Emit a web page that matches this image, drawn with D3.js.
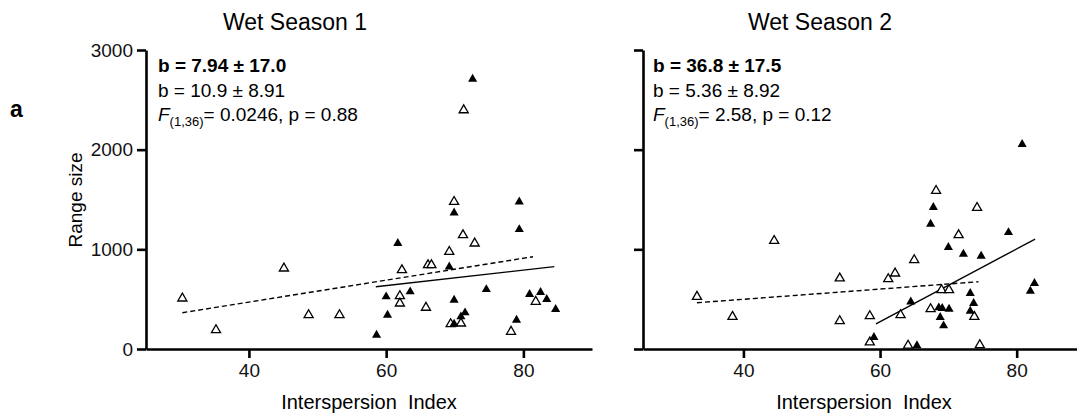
<!DOCTYPE html>
<html>
<head>
<meta charset="utf-8">
<script src="https://cdn.jsdelivr.net/npm/d3@7"></script>
<style>
  body { margin: 0; background: #fff; }
  svg { font-family: "Liberation Sans", Arial, sans-serif; }
</style>
</head>
<body>
<svg id="chart" width="1077" height="416"></svg>
<script>
// values
const titles = ['Wet Season 1', 'Wet Season 2'];
const yTicks = [0, 1000, 2000, 3000];
const xTicks = [40, 60, 80];

const ws1FilledX = [61.7, 60.0, 60.2, 58.6, 63.5, 72.6, 69.9, 79.4, 79.4, 69.2, 74.6, 69.9, 71.5, 70.9, 69.9, 79.0, 80.9, 82.5, 83.4, 84.7];
const ws1FilledY = [1060, 525, 341, 140, 575, 2708, 1367, 1477, 1200, 825, 598, 491, 364, 324, 251, 291, 549, 569, 499, 398];
const ws1OpenX = [30.3, 35.2, 45.1, 48.7, 53.2, 62.3, 62.0, 62.0, 65.8, 66.1, 66.6, 71.3, 69.9, 71.2, 72.9, 69.2, 70.9, 69.4, 78.2, 81.8];
const ws1OpenY = [508, 190, 809, 341, 341, 792, 532, 458, 415, 842, 842, 2397, 1477, 1143, 1060, 976, 257, 251, 174, 475];

const ws2FilledX = [80.8, 67.8, 67.4, 78.8, 70.0, 72.2, 74.8, 82.6, 82.0, 73.2, 64.5, 73.7, 68.6, 69.1, 70.1, 73.2, 68.8, 69.3, 59.1, 65.4];
const ws2FilledY = [2053, 1421, 1254, 1170, 1020, 953, 933, 659, 582, 559, 474, 458, 414, 408, 401, 381, 318, 234, 117, 35];
const ws2OpenX = [68.2, 74.2, 44.5, 71.5, 65.0, 54.1, 62.2, 61.2, 33.2, 69.0, 70.1, 67.4, 38.4, 54.1, 58.5, 63.0, 73.8, 58.5, 64.1, 74.6];
const ws2OpenY = [1588, 1417, 1086, 1143, 893, 709, 759, 702, 525, 592, 592, 401, 324, 281, 331, 341, 324, 67, 35, 40];

// regression line end points
const ws1FilledFit = [[58.5, 625], [84.5, 826]];
const ws1OpenFit = [[30.3, 364], [81.4, 926]];
const ws2FilledFit = [[59.4, 251], [82.7, 1103]];
const ws2OpenFit = [[33.2, 464], [74.4, 675]];

const ws1Stats = ['b = 7.94 \u00b1 17.0', 'b =  10.9 \u00b1 8.91', '= 0.0246, p = 0.88'];
const ws2Stats = ['b =  36.8 \u00b1 17.5', 'b =  5.36 \u00b1 8.92', '= 2.58, p = 0.12'];

const zip = (xs, ys) => xs.map((x, i) => [x, ys[i]]);

const panels = [
  { title: titles[0], left: 146, right: 592, xMin: 25, titleX: 295, textX: 158, labels: true,
    filled: zip(ws1FilledX, ws1FilledY), open: zip(ws1OpenX, ws1OpenY),
    filledFit: ws1FilledFit, openFit: ws1OpenFit, stats: ws1Stats },
  { title: titles[1], left: 643, right: 1085, xMin: 25.3, titleX: 820, textX: 653, labels: false,
    filled: zip(ws2FilledX, ws2FilledY), open: zip(ws2OpenX, ws2OpenY),
    filledFit: ws2FilledFit, openFit: ws2OpenFit, stats: ws2Stats }
];

const svg = d3.select('#chart');
const plotTop = 50;
const plotBottom = 349;

const scaleY = d3.scaleLinear().domain([0, 3000]).range([plotBottom, plotTop]);
const tri = d3.symbol().type(d3.symbolTriangle).size(36);

panels.forEach(p => {
  const scaleX = d3.scaleLinear().domain([p.xMin, 90]).range([p.left, p.right]);
  const g = svg.append('g');

  g.append('text')
    .attr('x', p.titleX)
    .attr('y', 30)
    .attr('text-anchor', 'middle')
    .style('font-size', '23px')
    .text(p.title);

  const xAxis = d3.axisBottom(scaleX).tickValues(xTicks).tickSize(9).tickSizeOuter(0).tickPadding(6);
  const gx = g.append('g').attr('transform', `translate(0,${plotBottom})`).call(xAxis);

  const yAxis = d3.axisLeft(scaleY).tickValues(yTicks).tickSize(9).tickSizeOuter(0).tickPadding(4)
    .tickFormat(p.labels ? d3.format('d') : '');
  const gy = g.append('g').attr('transform', `translate(${p.left},0)`).call(yAxis);

  [gx, gy].forEach(a => {
    a.selectAll('path, line').attr('stroke', '#000').attr('stroke-width', 2.6);
    a.selectAll('text').style('font-size', '19px').attr('fill', '#111');
  });

  g.append('text')
    .attr('x', (p.left + p.right) / 2)
    .attr('y', 409)
    .attr('text-anchor', 'middle')
    .style('font-size', '20px')
    .style('white-space', 'pre')
    .text('Interspersion  Index');

  // stats text
  const tx = g.append('g').style('font-size', '19px').style('white-space', 'pre');
  tx.append('text').attr('x', p.textX).attr('y', 72).style('font-weight', 'bold').text(p.stats[0]);
  tx.append('text').attr('x', p.textX).attr('y', 97).text(p.stats[1]);
  const t3 = tx.append('text').attr('x', p.textX).attr('y', 121);
  t3.append('tspan').style('font-style', 'italic').text('F');
  t3.append('tspan').attr('dy', 5).style('font-size', '13px').text('(1,36)');
  t3.append('tspan').attr('dy', -5).text(p.stats[2]);

  const line = d3.line().x(d => scaleX(d[0])).y(d => scaleY(d[1]));

  g.append('path')
    .attr('d', line(p.openFit))
    .attr('fill', 'none')
    .attr('stroke', '#000')
    .attr('stroke-width', 1.4)
    .attr('stroke-dasharray', '5,3');

  g.append('path')
    .attr('d', line(p.filledFit))
    .attr('fill', 'none')
    .attr('stroke', '#000')
    .attr('stroke-width', 1.4);

  g.selectAll('.open')
    .data(p.open)
    .enter()
    .append('path')
    .attr('class', 'open')
    .attr('d', tri)
    .attr('transform', d => `translate(${scaleX(d[0])},${scaleY(d[1])})`)
    .attr('fill', '#fff')
    .attr('stroke', '#000')
    .attr('stroke-width', 1.3);

  g.selectAll('.filled')
    .data(p.filled)
    .enter()
    .append('path')
    .attr('class', 'filled')
    .attr('d', tri)
    .attr('transform', d => `translate(${scaleX(d[0])},${scaleY(d[1])})`)
    .attr('fill', '#000');
});

svg.append('text')
  .attr('x', 75)
  .attr('y', 200)
  .attr('transform', 'rotate(-90,75,200)')
  .attr('text-anchor', 'middle')
  .attr('dy', '0.35em')
  .style('font-size', '19px')
  .text('Range size');

svg.append('text')
  .attr('x', 10)
  .attr('y', 117)
  .style('font-size', '23px')
  .style('font-weight', 'bold')
  .text('a');
</script>
</body>
</html>
